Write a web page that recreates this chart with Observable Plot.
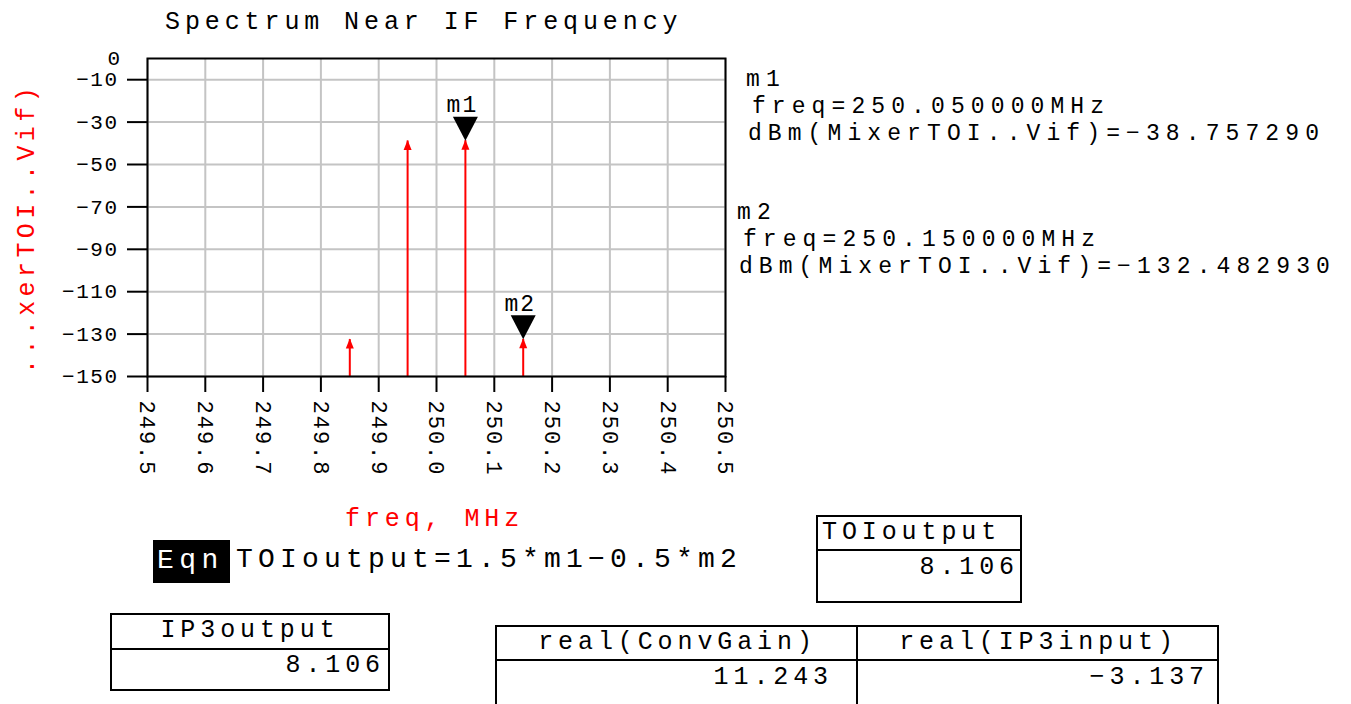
<!DOCTYPE html>
<html>
<head>
<meta charset="utf-8">
<script src="https://cdn.jsdelivr.net/npm/d3@7"></script>
<script src="https://cdn.jsdelivr.net/npm/@observablehq/plot@0.6"></script>
<style>
  html, body { margin: 0; padding: 0; background: #fff; }
  #wrap { position: relative; width: 1351px; height: 704px; overflow: hidden; font-family: "Liberation Mono", "DejaVu Sans Mono", monospace; }
  #wrap svg { position: absolute; left: 0; top: 0; }
  .t { position: absolute; white-space: pre; color: #000; font-size: 25px; letter-spacing: 4.9px; line-height: 25px; }
  .ro { font-size: 23px; letter-spacing: 6.1px; line-height: 23px; }
  .red { color: #ff0000; }
  g[aria-label="y-axis tick label"] text { letter-spacing: 1.5px; }
  g[aria-label="x-axis tick label"] text { letter-spacing: 2px; }
  g[aria-label="text"] text { letter-spacing: 2px; }
  .box { position: absolute; border: 2px solid #000; box-sizing: border-box; }
  .hdr { position: absolute; left: 0; right: 0; top: 0; border-bottom: 2px solid #000; box-sizing: border-box; }
  .cell { position: absolute; white-space: pre; font-size: 25px; letter-spacing: 4.9px; line-height: 25px; }
</style>
</head>
<body>
<div id="wrap"></div>
<script>
// ---- data ----
const xTicks = [249.5, 249.6, 249.7, 249.8, 249.9, 250.0, 250.1, 250.2, 250.3, 250.4, 250.5];
const yTicks = [-10, -30, -50, -70, -90, -110, -130, -150];
const freqs = [249.85, 249.95, 250.05, 250.15];
const dbmValues = [-132.6, -38.9, -38.757290, -132.482930];
const markerNames = ["m1", "m2"];
const markerFreqs = [250.05, 250.15];
const markerDbm = [-38.757290, -132.482930];
const titleText = "Spectrum Near IF Frequency";
const xLabelText = "freq, MHz";
const yLabelText = "...xerTOI..Vif)";
const eqnText = "TOIoutput=1.5*m1\u22120.5*m2";
const tableTitles = ["TOIoutput", "IP3output", "real(ConvGain)", "real(IP3input)"];
const tableValues = ["8.106", "8.106", "11.243", "\u22123.137"];

const spectrum = freqs.map((f, i) => ({freq: f, dbm: dbmValues[i]}));
const markers = markerNames.map((n, i) => ({name: n, freq: markerFreqs[i], dbm: markerDbm[i]}));
const minus = s => s.replace("-", "\u2212");

const downTri = {draw(c) { c.moveTo(0, 0); c.lineTo(-12.5, -24); c.lineTo(12.5, -24); c.closePath(); }};
const arrowHead = {draw(c) { c.moveTo(0, -1); c.lineTo(-4, 9); c.lineTo(4, 9); c.closePath(); }};

const W = 1351, H = 704;
const chart = Plot.plot({
  width: W, height: H,
  marginLeft: 147, marginRight: W - 725, marginTop: 58, marginBottom: H - 376,
  style: {fontFamily: "Liberation Mono, DejaVu Sans Mono, monospace", background: "transparent", color: "#000"},
  x: {domain: [249.5, 250.5], label: null},
  y: {domain: [-150, 0], label: null},
  marks: [
    Plot.gridX(xTicks, {stroke: "#c4c4c4", strokeOpacity: 1, strokeWidth: 2}),
    Plot.gridY(yTicks, {stroke: "#c4c4c4", strokeOpacity: 1, strokeWidth: 2}),
    Plot.ruleX(spectrum, {x: "freq", y1: -150, y2: "dbm", stroke: "#ff0000", strokeWidth: 2}),
    Plot.dot(spectrum, {x: "freq", y: "dbm", symbol: arrowHead, fill: "#ff0000", stroke: "none", r: 4}),
    Plot.frame({stroke: "#000", strokeWidth: 2}),
    Plot.axisY(yTicks, {tickSize: 20, tickPadding: 9, strokeWidth: 2, fontSize: 21, tickFormat: d => minus(d3.format("d")(d))}),
    Plot.axisY([0], {tickSize: 0, tickPadding: 26, fontSize: 21, tickFormat: d => "0"}),
    Plot.axisX(xTicks, {tickSize: 16, tickPadding: 8, strokeWidth: 2, fontSize: 22, tickRotate: 90, tickFormat: d3.format(".1f")}),
    Plot.dot(markers, {x: "freq", y: "dbm", symbol: downTri, fill: "#000", stroke: "none", r: 10}),
    Plot.text(markers, {x: "freq", y: "dbm", text: "name", dy: -36, dx: -3, fontSize: 23, fill: "#000"})
  ]
});

const wrap = document.getElementById("wrap");
wrap.appendChild(chart);

function addText(txt, left, top, cls, extra) {
  const d = document.createElement("div");
  d.className = "t " + (cls || "");
  d.textContent = txt;
  d.style.left = left + "px";
  d.style.top = top + "px";
  if (extra) Object.assign(d.style, extra);
  wrap.appendChild(d);
  return d;
}

// title
addText(titleText, 165, 10);
// axis labels
addText(xLabelText, 345, 507, "red");
const yl = addText(yLabelText, 0, 0, "red", {fontSize: "25px", letterSpacing: "4.4px"});
yl.style.transformOrigin = "0 0";
yl.style.transform = "translate(15px, 374px) rotate(-90deg)";

// marker readouts
markers.forEach((m, i) => {
  const top = i === 0 ? 69 : 202;
  const left = i === 0 ? 746 : 737;
  addText(m.name, left, top, "ro");
  addText(" freq=" + m.freq.toFixed(6) + "MHz", left - 14, top + 27, "ro");
  addText(" dBm(MixerTOI..Vif)=" + minus(m.dbm.toFixed(6)), left - 18, top + 54, "ro");
});

// equation
const eqnBox = document.createElement("div");
Object.assign(eqnBox.style, {position: "absolute", left: "153px", top: "540px", width: "77px", height: "43px", background: "#000"});
wrap.appendChild(eqnBox);
addText("Eqn", 157, 547, "", {color: "#fff", fontSize: "28px", letterSpacing: "5.5px", lineHeight: "28px"});
addText(eqnText, 236, 546, "", {fontSize: "28px", letterSpacing: "5.2px", lineHeight: "28px"});

// tables
function addBox(left, top, width, height, hdrH) {
  const b = document.createElement("div");
  b.className = "box";
  Object.assign(b.style, {left: left + "px", top: top + "px", width: width + "px", height: height + "px"});
  const h = document.createElement("div");
  h.className = "hdr";
  h.style.height = hdrH + "px";
  b.appendChild(h);
  wrap.appendChild(b);
  return b;
}
function cell(parent, txt, styles) {
  const c = document.createElement("div");
  c.className = "cell";
  c.textContent = txt;
  Object.assign(c.style, styles);
  parent.appendChild(c);
}
// TOIoutput
const b1 = addBox(816, 515, 206, 88, 34);
cell(b1, tableTitles[0], {left: "4px", top: "3px"});
cell(b1, tableValues[0], {right: "1px", top: "38px"});
// IP3output
const b2 = addBox(110, 613, 280, 78, 35);
cell(b2, tableTitles[1], {left: "0", right: "0", textAlign: "center", top: "3px"});
cell(b2, tableValues[1], {right: "3px", top: "38px"});
// ConvGain / IP3input
const b3 = addBox(495, 625, 724, 100, 34);
const div = document.createElement("div");
Object.assign(div.style, {position: "absolute", left: "359px", top: "0", bottom: "0", width: "2px", background: "#000"});
b3.appendChild(div);
cell(b3, tableTitles[2], {left: "0", width: "361px", textAlign: "center", top: "3px"});
cell(b3, tableTitles[3], {left: "361px", width: "361px", textAlign: "center", top: "3px"});
cell(b3, tableValues[2], {right: "384px", top: "38px"});
cell(b3, tableValues[3], {right: "8px", top: "38px"});
</script>
</body>
</html>
